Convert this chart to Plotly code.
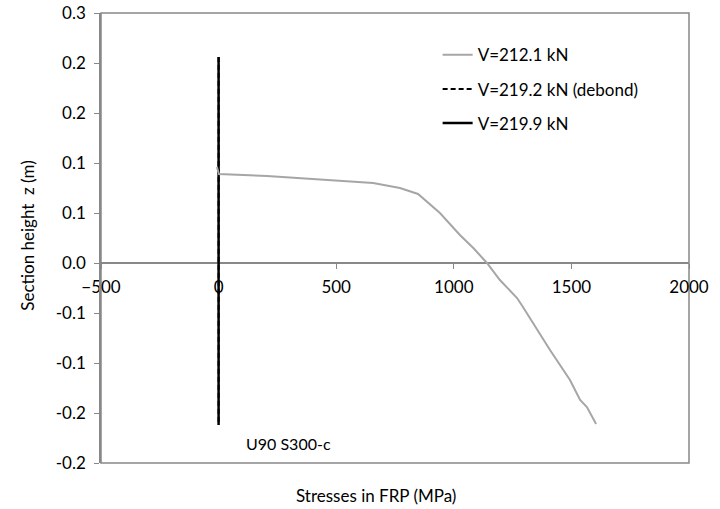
import plotly.graph_objects as go

# FRP stress profile over section height, V = 212.1 kN
stress_212 = [-7, 1, 206, 487, 657, 771, 848, 941, 1026, 1083, 1141, 1196, 1269, 1294, 1409, 1494, 1537, 1566, 1605]
z_212 = [0.096, 0.089, 0.087, 0.083, 0.080, 0.075, 0.069, 0.050, 0.028, 0.015, 0.000, -0.017, -0.035, -0.044, -0.087, -0.117, -0.137, -0.144, -0.161]

# After debonding: stress drops to zero over the whole height
stress_219_2 = [0, 0]
z_219_2 = [0.206, -0.162]
stress_219_9 = [0, 0]
z_219_9 = [0.206, -0.162]

names = ["V=212.1 kN", "V=219.2 kN (debond)", "V=219.9 kN"]

y_tickvals = [-0.2, -0.15, -0.1, -0.05, 0.0, 0.05, 0.1, 0.15, 0.2, 0.25]
y_ticktext = ["-0.2", "-0.2", "-0.1", "-0.1", "0.0", "0.1", "0.1", "0.2", "0.2", "0.3"]
x_tickvals = [-500, 0, 500, 1000, 1500, 2000]

FONT = "Lato"
FS = 17
AXIS_GREY = "#888888"

fig = go.Figure()
fig.add_trace(go.Scatter(x=stress_219_2, y=z_219_2, mode="lines", name=names[1],
                         legendgroup="b", legendrank=2,
                         line=dict(color="black", width=2, dash="5px,3px")))
fig.add_trace(go.Scatter(x=stress_219_9, y=z_219_9, mode="lines", name=names[2],
                         legendgroup="c", legendrank=3,
                         line=dict(color="black", width=2.5)))
fig.add_trace(go.Scatter(x=stress_212, y=z_212, mode="lines", name=names[0],
                         legendgroup="a", legendrank=1,
                         line=dict(color="#a6a6a6", width=2)))

fig.update_layout(
    width=720, height=509,
    margin=dict(l=101, r=31, t=13, b=46, autoexpand=False),
    paper_bgcolor="white", plot_bgcolor="white",
    font=dict(family=FONT, size=FS, color="black"),
    showlegend=True,
    legend=dict(x=0.5725, y=0.946, xanchor="left", yanchor="top",
                bgcolor="rgba(0,0,0,0)", tracegroupgap=9,
                font=dict(family=FONT, size=FS)),
    xaxis=dict(range=[-500, 2000], tickvals=x_tickvals, showgrid=False,
               zeroline=False, showline=True, linecolor=AXIS_GREY, linewidth=1.5,
               ticks="outside", ticklen=5, tickcolor=AXIS_GREY,
               anchor="free", position=0.2 / 0.45, layer="below traces",
               ticklabelstandoff=4,
               automargin=False, tickfont=dict(family=FONT, size=FS)),
    yaxis=dict(range=[-0.2, 0.25], tickvals=y_tickvals, ticktext=y_ticktext,
               showgrid=False, zeroline=False, showline=True,
               linecolor=AXIS_GREY, linewidth=1.5, ticks="outside", ticklen=5,
               tickcolor=AXIS_GREY, automargin=False, ticklabelstandoff=5,
               tickfont=dict(family=FONT, size=FS)),
)

# plot-area frame
fig.add_shape(type="rect", xref="paper", yref="paper", x0=0, x1=1, y0=0, y1=1,
              line=dict(color=AXIS_GREY, width=1.5), layer="below")

fig.add_annotation(text="Section height\u00a0\u00a0z (m)", xref="paper", yref="paper",
                   x=-0.125, y=0.504, xanchor="center", yanchor="middle",
                   textangle=-90, showarrow=False, font=dict(family=FONT, size=FS))
fig.add_annotation(text="Stresses in FRP (MPa)", xref="paper", yref="paper",
                   x=0.467, y=-0.072, xanchor="center", yanchor="middle",
                   showarrow=False, font=dict(family=FONT, size=FS))
fig.add_annotation(text="U90 S300-c", x=108, y=-0.18, xanchor="left",
                   showarrow=False, font=dict(family=FONT, size=16))

fig.write_html("out.html")
